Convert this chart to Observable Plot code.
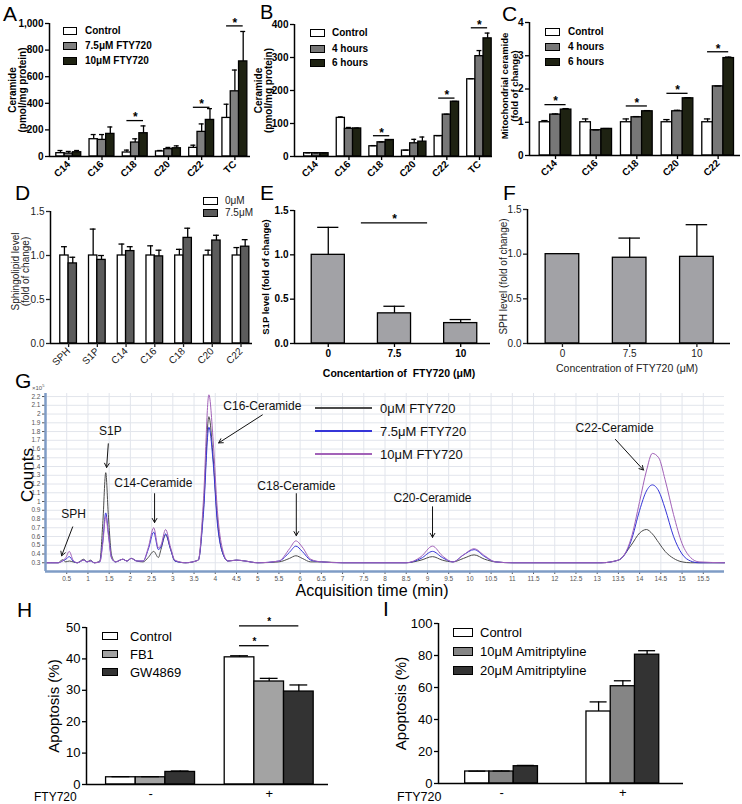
<!DOCTYPE html>
<html><head><meta charset="utf-8">
<script src="https://cdn.jsdelivr.net/npm/d3@7"></script>
<script src="https://cdn.jsdelivr.net/npm/@observablehq/plot@0.6"></script>
<style>
body{margin:0;background:#fff;font-family:"Liberation Sans",Arial,Helvetica,sans-serif;}
#fig{position:relative;width:742px;height:804px;overflow:hidden;background:#fff}
.abs{position:absolute;white-space:pre;line-height:1;color:#000}
.sw{position:absolute;box-sizing:border-box;border:1.5px solid #000}
</style></head><body><div id="fig"></div><script>
// ---------------- DATA ----------------
// Panel A
const catsA = ["C14","C16","C18","C20","C22","TC"];
const seriesA = ["Control","7.5\u03bcM FTY720","10\u03bcM FTY720"];
const ctrlA = [25,130,30,38,65,290];
const fty75A = [22,125,105,55,185,490];
const fty10A = [32,170,175,62,275,715];
const ctrlAErr = [20,35,18,7,20,103];
const fty75AErr = [16,40,28,13,60,160];
const fty10AErr = [13,52,55,18,85,225];
const sigCatsA = [2,4,5];
const sigYA = [270,370,982];
const yTicksA = [0,200,400,600,800,1000];
// Panel B
const catsB = ["C14","C16","C18","C20","C22","TC"];
const seriesB = ["Control","4 hours","6 hours"];
const ctrlB = [10,117,31,18,62,234];
const h4B = [10,84,43,40,127,304];
const h6B = [10,85,50,45,166,358];
const ctrlBErr = [1,3,2,1,1,2];
const h4BErr = [1,4,1,12,1,17];
const h6BErr = [1,1,1,14,1,16];
const sigCatsB = [2,4,5];
const sigYB = [63,177,390];
const yTicksB = [0,100,200,300,400];
// Panel C
const catsC = ["C14","C16","C18","C20","C22"];
const seriesC = ["Control","4 hours","6 hours"];
const ctrlC = [1,1,1,1,1];
const h4C = [1.23,0.76,1.15,1.33,2.08];
const h6C = [1.38,0.80,1.33,1.72,2.93];
const ctrlCErr = [0.05,0.10,0.10,0.08,0.10];
const h4CErr = [0.02,0.01,0.02,0.03,0.01];
const h6CErr = [0.03,0.01,0.02,0.02,0.03];
const sigCatsC = [0,2,3,4];
const sigYC = [1.53,1.49,1.87,3.12];
const yTicksC = [0,1,2,3,4];
// Panel D
const catsD = ["SPH","S1P","C14","C16","C18","C20","C22"];
const seriesD = ["0\u03bcM","7.5\u03bcM"];
const zeroD = [1,1,1,1,1,1,1];
const fty75D = [0.91,0.95,1.05,0.99,1.20,1.17,1.10];
const zeroDErr = [0.10,0.30,0.13,0.11,0.07,0.06,0.09];
const fty75DErr = [0.07,0.05,0.05,0.07,0.11,0.06,0.08];
const yTicksD = [0,0.5,1,1.5];
// Panel E
const concE = ["0","7.5","10"];
const s1pE = [1.0,0.34,0.23];
const s1pEErr = [0.31,0.08,0.04];
const sigYE = [1.36];
// Panel F
const concF = ["0","7.5","10"];
const sphF = [1.0,0.96,0.97];
const sphFErr = [0,0.22,0.36];
// Panel G (chromatogram, counts x10^5)
const gTime = [0,0.3,0.4,0.48,0.56,0.65,0.75,0.9,0.98,1.06,
  1.15,1.28,1.35,1.42,1.48,1.56,1.65,1.82,1.92,2.02,
  2.15,2.3,2.42,2.55,2.66,2.72,2.83,2.95,3.05,3.3,
  3.6,3.72,3.85,3.95,4.05,4.15,4.3,4.5,4.7,5.0,
  5.5,5.75,5.9,6.05,6.25,6.5,7.0,8.5,8.85,9.12,
  9.35,9.6,9.85,10.1,10.35,10.6,11,13.1,13.5,13.8,
  14.0,14.16,14.3,14.45,14.6,14.8,15.0,15.2,15.4,16.0];
const g0uM = [0.30,0.30,0.335,0.31,0.32,0.31,0.30,0.34,0.31,0.33,
  0.30,0.32,0.75,1.33,0.85,0.38,0.31,0.34,0.32,0.35,
  0.32,0.31,0.36,0.43,0.36,0.45,0.62,0.45,0.32,0.30,
  0.33,0.90,1.97,1.50,0.80,0.45,0.32,0.33,0.32,0.30,
  0.31,0.35,0.38,0.35,0.31,0.31,0.30,0.30,0.33,0.37,
  0.33,0.31,0.35,0.39,0.34,0.31,0.30,0.30,0.33,0.50,
  0.64,0.68,0.63,0.53,0.43,0.35,0.31,0.30,0.30,0.30];
const g75uM = [0.30,0.30,0.32,0.34,0.37,0.32,0.30,0.33,0.31,0.32,
  0.30,0.31,0.55,0.87,0.65,0.35,0.31,0.34,0.32,0.35,
  0.32,0.32,0.45,0.65,0.45,0.48,0.63,0.45,0.32,0.30,
  0.33,0.85,1.85,1.45,0.75,0.45,0.32,0.33,0.32,0.30,
  0.32,0.42,0.49,0.43,0.33,0.31,0.30,0.30,0.35,0.43,
  0.36,0.31,0.39,0.45,0.37,0.31,0.30,0.30,0.33,0.55,
  0.90,1.12,1.19,1.12,0.92,0.60,0.40,0.32,0.30,0.30];
const g10uM = [0.30,0.30,0.32,0.36,0.43,0.33,0.30,0.33,0.31,0.32,
  0.30,0.31,0.52,0.83,0.62,0.35,0.31,0.34,0.32,0.35,
  0.32,0.32,0.47,0.70,0.47,0.50,0.68,0.47,0.33,0.30,
  0.33,1.00,2.22,1.70,0.90,0.50,0.32,0.33,0.32,0.30,
  0.32,0.46,0.55,0.48,0.34,0.31,0.30,0.30,0.37,0.49,
  0.38,0.31,0.39,0.46,0.38,0.31,0.30,0.30,0.33,0.58,
  1.00,1.35,1.55,1.50,1.25,0.85,0.52,0.36,0.31,0.30];
const gSeries = ["0\u03bcM FTY720","7.5\u03bcM FTY720","10\u03bcM FTY720"];
const gTicksY = [0.3,0.4,0.5,0.6,0.7,0.8,0.9,1,1.1,1.2,1.3,1.4,1.5,1.6,1.7,1.8,1.9,2,2.1,2.2];
const gTicksX = [0.5,1,1.5,2,2.5,3,3.5,4,4.5,5,5.5,6,6.5,7,7.5,8,8.5,9,9.5,10,10.5,11,11.5,12,12.5,13,13.5,14,14.5,15,15.5];
const gPeakNames = ["SPH","S1P","C14-Ceramide","C16-Ceramide","C18-Ceramide","C20-Ceramide","C22-Ceramide"];
const gLabelT = [0.66,1.53,2.54,5.11,5.91,9.12,13.41];
const gLabelC = [0.86,1.80,1.21,2.09,1.17,1.04,1.84];
const gArrowT1 = [0.64,1.48,2.57,5.11,5.91,9.12,13.43];
const gArrowC1 = [0.71,1.66,1.09,1.99,1.09,0.94,1.71];
const gArrowT2 = [0.38,1.44,2.57,4.08,5.91,9.12,14.09];
const gArrowC2 = [0.38,1.39,0.76,1.67,0.61,0.59,1.36];
// Panel H
const groupsH = ["-","+"];
const seriesH = ["Control","FB1","GW4869"];
const ctrlH = [2.3,40.5];
const fb1H = [2.3,32.8];
const gwH = [4.0,29.6];
const ctrlHErr = [0.2,0.5];
const fb1HErr = [0.2,1.0];
const gwHErr = [0.3,2.1];
const sigToH = [1,2];
const sigYH = [44.2,50.5];
const yTicksH = [0,10,20,30,40,50];
// Panel I
const groupsI = ["-","+"];
const seriesI = ["Control","10\u03bcM Amitriptyline","20\u03bcM Amitriptyline"];
const ctrlI = [7.5,45];
const ami10I = [7.5,60.8];
const ami20I = [10.8,80.5];
const ctrlIErr = [0.2,6];
const ami10IErr = [0.3,3.4];
const ami20IErr = [0.5,2.5];
const yTicksI = [0,20,40,60,80,100];

// ---------------- HELPERS ----------------
const FONT = '"Liberation Sans", Arial, Helvetica, sans-serif';
const fig = document.getElementById("fig");
function place(node, left, top) {
  node.style.position = "absolute";
  node.style.left = left + "px";
  node.style.top = top + "px";
  fig.appendChild(node);
  return node;
}
function label(text, left, top, style) {
  const d = document.createElement("div");
  d.className = "abs";
  d.textContent = text;
  Object.assign(d.style, style || {});
  return place(d, left, top);
}
function legend(names, colors, x, ys, swW, swH, textX, style) {
  names.forEach((nm, k) => {
    const s = document.createElement("div");
    s.className = "sw";
    s.style.width = swW + "px"; s.style.height = swH + "px";
    s.style.background = colors[k];
    place(s, x, ys[k] - swH / 2);
    label(nm, textX, ys[k], Object.assign({transform: "translateY(-50%)"}, style));
  });
}
function barPanel(o) {
  const n = o.means.length;
  const off = j => (j - (n - 1) / 2) * o.barW;
  const rows = [];
  o.means.forEach((vals, j) => vals.forEach((v, i) => {
    const c = i + off(j);
    rows.push({c, x1: c - o.barW / 2, x2: c + o.barW / 2, y: v, top: v + o.errs[j][i], e: o.errs[j][i], fill: o.colors[j]});
  }));
  const errRows = rows.filter(d => d.e > 0);
  const cap = o.barW * (o.capFrac ?? 0.3);
  const sig = (o.sigCats || []).map((ci, k) => ({
    x1: ci + off(o.sigFrom ? o.sigFrom[k] : 0),
    x2: ci + off(o.sigTo ? o.sigTo[k] : n - 1),
    y: o.sigYs[k]
  }));
  const fw = o.bold ? "bold" : "normal";
  const svg = Plot.plot({
    width: o.width, height: o.height,
    marginLeft: o.mL, marginRight: o.mR, marginTop: o.mT, marginBottom: o.mB,
    x: {type: "linear", domain: o.xDomain, axis: null},
    y: {domain: o.yDomain, axis: null},
    color: {type: "identity"},
    style: {fontFamily: FONT, fontSize: o.fontSize + "px", color: "#000", background: "transparent", overflow: "visible"},
    marks: [
      Plot.rectY(rows, {x1: "x1", x2: "x2", y1: 0, y2: "y", fill: "fill", stroke: "#000", strokeWidth: 1.3}),
      Plot.ruleX(errRows, {x: "c", y1: "y", y2: "top", stroke: "#000", strokeWidth: 1.3}),
      Plot.ruleY(errRows, {y: "top", x1: d => d.c - cap, x2: d => d.c + cap, stroke: "#000", strokeWidth: 1.3}),
      Plot.ruleX([o.xDomain[0]], {stroke: "#000", strokeWidth: 1.5}),
      Plot.ruleY([o.yDomain[0]], {stroke: "#000", strokeWidth: 1.5}),
      Plot.axisY({ticks: o.yTicks, tickFormat: o.yFormat, tickSize: 4, tickPadding: 2, fontWeight: fw, fontSize: o.fontSize, color: o.tickColor || "#000", strokeWidth: 1.3}),
      Plot.axisX({ticks: o.cats.map((_, i) => i), tickFormat: i => o.cats[i], tickRotate: o.rotate || 0,
        tickSize: o.xTickSize ?? 4, tickPadding: o.xTickPadding ?? 2, fontWeight: fw,
        fontSize: o.xFontSize || o.fontSize, color: o.tickColor || "#000", strokeWidth: 1.3}),
      Plot.ruleY(sig, {y: "y", x1: "x1", x2: "x2", stroke: "#000", strokeWidth: 1.3}),
      Plot.text(sig, {x: d => (d.x1 + d.x2) / 2, y: "y", text: () => "*", dy: o.starDy ?? -3, fontSize: o.starSize || 12, fontWeight: "bold"}),
      Plot.text([o.ylabel], {frameAnchor: "left", text: d => d, rotate: -90, dx: o.ylDx, dy: o.ylDy || 0,
        textAnchor: "middle", lineAnchor: "middle",
        fontWeight: o.ylBold ? "bold" : "normal", fontSize: o.ylSize, lineHeight: 1.05, fill: o.ylColor || "#000"})
    ]
  });
  place(svg, o.left, o.top);
  return svg;
}

// ---------------- PANELS ----------------
const colA = ["#ffffff","#808080","#1e2212"];
const colBC = ["#ffffff","#777777","#1e2212"];
barPanel({left: 0, top: 0, width: 252, height: 180, mL: 49, mR: 2, mT: 23, mB: 24,
  cats: catsA, means: [ctrlA, fty75A, fty10A], errs: [ctrlAErr, fty75AErr, fty10AErr], colors: colA,
  barW: 0.25, xDomain: [-0.58, 5.47], yDomain: [0, 1000], yTicks: yTicksA, bold: true, fontSize: 10, rotate: -45,
  sigCats: sigCatsA, sigYs: sigYA, ylabel: "Ceramide\n(pmol/mg protein)", ylDx: -32, ylBold: true, ylSize: 10});
barPanel({left: 245, top: 0, width: 250, height: 180, mL: 49, mR: 3, mT: 24, mB: 24,
  cats: catsB, means: [ctrlB, h4B, h6B], errs: [ctrlBErr, h4BErr, h6BErr], colors: colBC,
  barW: 0.25, xDomain: [-0.67, 5.4], yDomain: [0, 400], yTicks: yTicksB, bold: true, fontSize: 10, rotate: -45,
  sigCats: sigCatsB, sigYs: sigYB, ylabel: "Ceramide\n(pmol/mg protein)", ylDx: -31, ylBold: true, ylSize: 10});
barPanel({left: 490, top: 0, width: 252, height: 180, mL: 39, mR: 2, mT: 22, mB: 25,
  cats: catsC, means: [ctrlC, h4C, h6C], errs: [ctrlCErr, h4CErr, h6CErr], colors: colBC,
  barW: 0.26, xDomain: [-0.64, 4.55], yDomain: [0, 4], yTicks: yTicksC, yFormat: d3.format("d"), bold: true, fontSize: 10, rotate: -45,
  sigCats: sigCatsC, sigYs: sigYC, ylabel: "Mitochondrial ceramide\n(fold of change)", ylDx: -20, ylDy: -3, ylBold: true, ylSize: 9.5});
barPanel({left: 0, top: 170, width: 252, height: 210, mL: 50, mR: 0, mT: 41, mB: 37,
  cats: catsD, means: [zeroD, fty75D], errs: [zeroDErr, fty75DErr], colors: ["#ffffff","#5c5c5c"],
  barW: 0.29, capFrac: 0.35, xDomain: [-0.63, 6.4], yDomain: [0, 1.5], yTicks: yTicksD, yFormat: d3.format(".1f"),
  bold: false, fontSize: 10, rotate: -45, tickColor: "#222",
  ylabel: "Sphingolipid level\n(fold of change)", ylDx: -30, ylDy: -6, ylSize: 10, ylColor: "#222"});
barPanel({left: 245, top: 170, width: 250, height: 215, mL: 49, mR: 5, mT: 40, mB: 42,
  cats: concE, means: [s1pE], errs: [s1pEErr], colors: ["#a2a2a6"],
  barW: 0.5, capFrac: 0.32, xDomain: [-0.51, 2.45], yDomain: [0, 1.5], yTicks: yTicksD, yFormat: d3.format(".1f"),
  bold: true, fontSize: 10, sigCats: [1], sigFrom: [-1], sigTo: [1], sigYs: sigYE, starDy: -4,
  ylabel: "S1P level (fold of change)", ylDx: -29, ylBold: true, ylSize: 9.5});
barPanel({left: 490, top: 170, width: 252, height: 215, mL: 37, mR: 12, mT: 39, mB: 42,
  cats: concF, means: [sphF], errs: [sphFErr], colors: ["#a2a2a6"],
  barW: 0.5, capFrac: 0.32, xDomain: [-0.52, 2.5], yDomain: [0, 1.5], yTicks: yTicksD, yFormat: d3.format(".1f"),
  bold: false, fontSize: 10, tickColor: "#222",
  ylabel: "SPH level (fold of change)", ylDx: -24, ylSize: 10, ylColor: "#222"});
barPanel({left: 0, top: 600, width: 340, height: 204, mL: 86, mR: 12, mT: 27, mB: 20,
  cats: groupsH, means: [ctrlH, fb1H, gwH], errs: [ctrlHErr, fb1HErr, gwHErr], colors: ["#ffffff","#a3a3a3","#333333"],
  barW: 0.25, capFrac: 0.3, xDomain: [-0.54, 1.5], yDomain: [0, 50], yTicks: yTicksH, bold: false, fontSize: 13,
  xTickSize: 0, xTickPadding: 4,
  sigCats: [1, 1], sigFrom: [0, 0], sigTo: sigToH, sigYs: sigYH, starSize: 10, starDy: -4,
  ylabel: "Apoptosis (%)", ylDx: -33, ylSize: 15});
barPanel({left: 370, top: 600, width: 372, height: 204, mL: 68, mR: 59, mT: 23, mB: 21,
  cats: groupsI, means: [ctrlI, ami10I, ami20I], errs: [ctrlIErr, ami10IErr, ami20IErr], colors: ["#ffffff","#858585","#333333"],
  barW: 0.2, capFrac: 0.35, xDomain: [-0.52, 1.5], yDomain: [0, 100], yTicks: yTicksI, bold: false, fontSize: 13,
  xTickSize: 0, xTickPadding: 4,
  ylabel: "Apoptosis (%)", ylDx: -38, ylSize: 15});

// Panel G chromatogram
const gColors = ["#4a4a4a","#3535d8","#a262b8"];
const gRows = [];
[g0uM, g75uM, g10uM].forEach((arr, k) => arr.forEach((c, i) => gRows.push({k, t: gTime[i], c, col: gColors[k]})));
const gAnn = gPeakNames.map((nm, i) => ({nm, t: gLabelT[i], c: gLabelC[i], t1: gArrowT1[i], c1: gArrowC1[i], t2: gArrowT2[i], c2: gArrowC2[i]}));
const gSvg = Plot.plot({
  width: 742, height: 212, marginLeft: 45, marginRight: 18, marginTop: 13, marginBottom: 21,
  x: {domain: [0, 16], axis: null},
  y: {domain: [0.2, 2.235], axis: null},
  color: {type: "identity"},
  style: {fontFamily: FONT, fontSize: "7px", background: "transparent", overflow: "visible"},
  marks: [
    Plot.ruleX(gTicksX, {stroke: "#e2e5ec", strokeWidth: 1}),
    Plot.ruleY(gTicksY, {stroke: "#e2e5ec", strokeWidth: 1}),
    Plot.line(gRows, {x: "t", y: "c", z: "k", stroke: "col", strokeWidth: 1, curve: "monotone-x"}),
    Plot.axisY({ticks: gTicksY, tickFormat: d => String(d), tickSize: 3, tickPadding: 2, fontSize: 6.5, color: "#555"}),
    Plot.axisX({ticks: gTicksX, tickFormat: d => String(d), tickSize: 3, tickPadding: 2, fontSize: 6.5, color: "#555"}),
    Plot.ruleX([0], {stroke: "#7f9cc6", strokeWidth: 2.5}),
    Plot.ruleY([0.2], {stroke: "#7f9cc6", strokeWidth: 2.5}),
    Plot.arrow(gAnn, {x1: "t1", y1: "c1", x2: "t2", y2: "c2", stroke: "#111", strokeWidth: 1, headLength: 7}),
    Plot.text(gAnn, {x: "t", y: "c", text: "nm", fontSize: 12, fill: "#111"})
  ]
});
place(gSvg, 0, 380);
// G legend
gSeries.forEach((nm, k) => {
  const ln = document.createElement("div");
  ln.style.width = "57px"; ln.style.height = "0"; ln.style.borderTop = "2px solid " + gColors[k];
  place(ln, 315, [408, 431, 454][k] - 1);
  label(nm, 380, [408, 431, 454][k], {fontSize: "13px", transform: "translateY(-50%)", color: "#111"});
});
const x10 = label("\u00d710", 32, 384, {fontSize: "6px", color: "#555"});
const sup = document.createElement("sup"); sup.textContent = "5"; sup.style.fontSize = "4px"; x10.appendChild(sup);
label("Counts", 27, 475, {fontSize: "17px", transform: "translate(-50%,-50%) rotate(-90deg)"});
label("Acquisition time (min)", 372, 591, {fontSize: "16px", transform: "translate(-50%,-50%)"});

// Legends
legend(seriesA, colA, 63, [31, 46, 61], 14, 8, 85, {fontSize: "10px", fontWeight: "bold"});
legend(seriesB, colBC, 310, [33, 49, 63], 15, 8, 332, {fontSize: "10px", fontWeight: "bold"});
legend(seriesC, colBC, 545, [32, 47, 62], 15, 8, 568, {fontSize: "10px", fontWeight: "bold"});
legend(seriesD, ["#ffffff","#5c5c5c"], 203, [201, 213], 15, 8, 225, {fontSize: "10px", color: "#222"});
legend(seriesH, ["#ffffff","#a3a3a3","#333333"], 102, [636, 654, 672], 16, 8, 130, {fontSize: "13px"});
legend(seriesI, ["#ffffff","#858585","#333333"], 453, [632, 651, 670], 20, 9, 480, {fontSize: "13px"});

// Axis titles (HTML)
label("Concentartion of  FTY720 (\u03bcM)", 399, 373, {fontSize: "10.5px", fontWeight: "bold", transform: "translate(-50%,-50%)"});
label("Concentration of FTY720 (\u03bcM)", 627, 368, {fontSize: "10.5px", color: "#222", transform: "translate(-50%,-50%)"});
label("FTY720", 34, 797, {fontSize: "12px", transform: "translateY(-50%)"});
label("FTY720", 397, 797, {fontSize: "12.5px", transform: "translateY(-50%)"});

// Panel letters
const letters = [["A",3,3,21],["B",260,2,20],["C",502,3,21],["D",15,182,21],["E",260,182,21],["F",503,182,21],["G",15,370,21],["H",17,599,21],["I",383,598,21]];
letters.forEach(([t, x, y, s]) => label(t, x, y, {fontSize: s + "px"}));
</script></body></html>
